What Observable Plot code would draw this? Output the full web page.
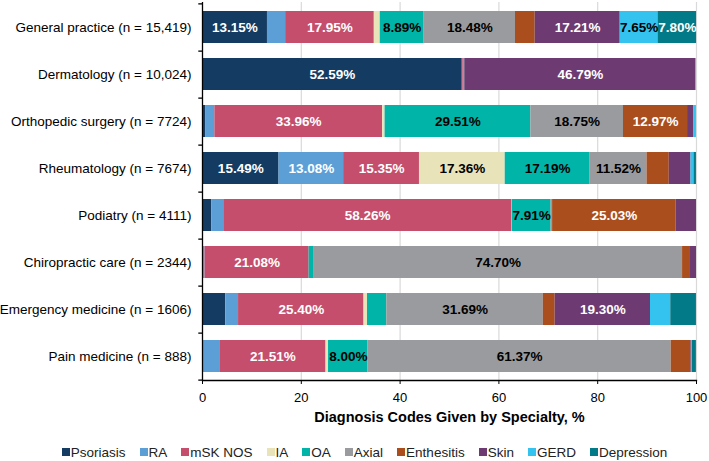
<!DOCTYPE html>
<html><head><meta charset="utf-8">
<script src="https://cdn.jsdelivr.net/npm/d3@7"></script>
<script src="https://cdn.jsdelivr.net/npm/@observablehq/plot@0.6"></script>
<style>
body{margin:0;background:#fff;font-family:"Liberation Sans",Arial,sans-serif;color:#000;}
#chart svg{display:block;}
g[aria-label="x-axis label"] text{font-weight:bold;font-size:14.5px;}
.lg-swatches{justify-content:center !important;font-family:"Liberation Sans",Arial,sans-serif !important;font-size:13.5px !important;color:#222 !important;margin:0 !important;min-height:32px !important;padding-left:20px;box-sizing:border-box;}
.lg-swatch{margin-right:14px !important;}
.lg-swatch:last-child{margin-right:0 !important;}
.lg-swatch svg{margin-right:1px !important;}
</style></head>
<body><div id="chart"></div>
<script>
const specialties = [
  "General practice (n = 15,419)",
  "Dermatology (n = 10,024)",
  "Orthopedic surgery (n = 7724)",
  "Rheumatology (n = 7674)",
  "Podiatry (n = 4111)",
  "Chiropractic care (n = 2344)",
  "Emergency medicine (n = 1606)",
  "Pain medicine (n = 888)"
];
const diagnoses = ["Psoriasis","RA","mSK NOS","IA","OA","Axial","Enthesitis","Skin","GERD","Depression"];
const colors = ["#143B62","#5B9FD6","#C44E6C","#E9E3BA","#00B4A8","#9A9B9E","#AB4E1E","#6D3B71","#33C3EE","#037A87"];
const whiteLabel = ["Psoriasis","RA","mSK NOS","Enthesitis","Skin","Depression"];
// shares per specialty, in diagnosis order
const generalPractice   = [13.15, 3.68, 17.95, 1.2, 8.89, 18.48, 4.0, 17.21, 7.65, 7.80];
const dermatology       = [52.59, 0.1, 0.25, 0, 0.15, 0, 0, 46.79, 0.12, 0];
const orthopedicSurgery = [0.7, 1.8, 33.96, 0.5, 29.51, 18.75, 12.97, 1.3, 0.5, 0];
const rheumatology      = [15.49, 13.08, 15.35, 17.36, 17.19, 11.52, 4.5, 4.4, 0.6, 0.5];
const podiatry          = [1.9, 2.4, 58.26, 0.1, 7.91, 0.3, 25.03, 4.1, 0, 0];
const chiropracticCare  = [0.2, 0.3, 21.08, 0, 0.9, 74.70, 1.6, 1.22, 0, 0];
const emergencyMedicine = [4.7, 2.6, 25.40, 0.7, 3.9, 31.69, 2.4, 19.30, 4.1, 5.2];
const painMedicine      = [0, 3.5, 21.51, 0.5, 8.00, 61.37, 4.0, 0.2, 0.1, 0.8];
const xTicks = [0, 20, 40, 60, 80, 100];
const labelMin = 7.5;

const rows = [generalPractice, dermatology, orthopedicSurgery, rheumatology, podiatry, chiropracticCare, emergencyMedicine, painMedicine];
const data = [];
rows.forEach((r, i) => r.forEach((v, j) => data.push({spec: specialties[i], dx: diagnoses[j], value: v})));

const W = 709, H = 436, mt = 2, mb = 56, ml = 202, mr = 13;
const step = (H - mt - mb) / specialties.length;

const stackOpts = (o) => Plot.stackX({y: "spec", x: "value", z: "dx", order: diagnoses, ...o});

const plot = Plot.plot({
  width: W, height: H,
  marginTop: mt, marginBottom: mb, marginLeft: ml, marginRight: mr,
  style: {fontFamily: '"Liberation Sans", Arial, sans-serif', fontSize: "13px", color: "#000", background: "#fff"},
  x: {domain: [0, 100]},
  y: {type: "band", domain: specialties, paddingInner: 0.32, paddingOuter: 0.16},
  color: {type: "categorical", domain: diagnoses, range: colors},
  marks: [
    Plot.gridX(xTicks.slice(1), {stroke: "#d9d9d9", strokeOpacity: 1, strokeWidth: 1.2}),
    Plot.barX(data, stackOpts({fill: "dx"})),
    Plot.text(data, stackOpts({text: d => (d.value >= labelMin && whiteLabel.includes(d.dx)) ? d.value.toFixed(2) + "%" : null, fill: "white", fontWeight: "bold", fontSize: 13.5})),
    Plot.text(data, stackOpts({text: d => (d.value >= labelMin && !whiteLabel.includes(d.dx)) ? d.value.toFixed(2) + "%" : null, fill: "black", fontWeight: "bold", fontSize: 13.5})),
    Plot.ruleX([0], {stroke: "#000", strokeWidth: 1.3}),
    Plot.ruleY(specialties, {y: d => d, x1: -0.75, x2: 0, dy: step / 2, stroke: "#000", strokeWidth: 1.3}),
    Plot.ruleY([specialties[0]], {y: d => d, x1: -0.75, x2: 0, dy: -step / 2, stroke: "#000", strokeWidth: 1.3}),
    Plot.frame({anchor: "bottom", stroke: "#000", strokeWidth: 1.3}),
    Plot.axisY({tickSize: 0, tickPadding: 11, label: null, fontSize: 13.5}),
    Plot.axisX({ticks: xTicks, tickSize: 4, tickPadding: 8, fontSize: 13, label: "Diagnosis Codes Given by Specialty, %", labelArrow: "none", labelAnchor: "center", labelOffset: 41})
  ]
});
document.getElementById("chart").appendChild(plot);

const legend = Plot.legend({color: {type: "categorical", domain: diagnoses, range: colors}, swatchSize: 8, className: "lg"});
document.getElementById("chart").appendChild(legend);
</script>
</body></html>
